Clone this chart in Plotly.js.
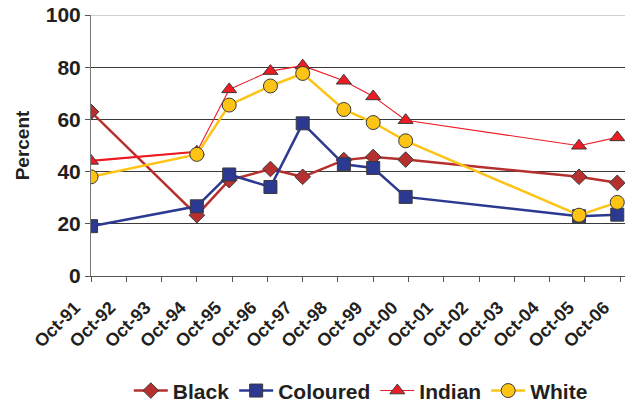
<!DOCTYPE html>
<html><head><meta charset="utf-8">
<script src="https://cdn.plot.ly/plotly-3.0.1.min.js"></script>
<style>html,body{margin:0;padding:0;background:#fff}#chart{width:633px;height:403px}</style>
</head><body><div id="chart"></div>
<script>
const dates = ['1991-10-01','1994-10-01','1995-09-01','1996-11-01','1997-10-01','1998-12-01','1999-10-01','2000-09-01','2005-08-01','2006-09-01'];
const black    = [62.9, 23.3, 36.7, 41.0, 38.0, 44.4, 45.6, 44.6, 38.0, 35.7];
const coloured = [19.1, 26.7, 38.9, 34.1, 58.5, 42.8, 41.4, 30.3, 22.9, 23.5];
const indian   = [44.1, 47.6, 71.5, 78.5, 80.6, 74.8, 68.8, 59.7, 49.9, 53.1];
const white    = [38.0, 46.6, 65.5, 72.8, 77.6, 63.8, 58.8, 51.8, 23.3, 28.2];
const names = ['Black','Coloured','Indian','White'];

const F = 'Liberation Sans, Arial, sans-serif';
const TXT = '#231F20';
const outline = {color:'#3a3a3a', width:1};
const traces = [
  {x:dates, y:black, name:names[0], mode:'lines+markers',
   line:{color:'#B5302E', width:2.5},
   marker:{symbol:'diamond', size:12, color:'#B5302E', line:outline}},
  {x:dates, y:coloured, name:names[1], mode:'lines+markers',
   line:{color:'#2B3990', width:2.5},
   marker:{symbol:'square', size:13, color:'#2B3990', line:outline}},
  {x:dates.slice(0,2), y:indian.slice(0,2), name:names[2], mode:'lines', showlegend:false,
   line:{color:'#ED1C24', width:2.2}, hoverinfo:'skip'},
  {x:dates, y:indian, name:names[2], mode:'lines+markers',
   line:{color:'#ED1C24', width:1.1},
   marker:{symbol:'triangle-up', size:13, color:'#ED1C24', line:outline}},
  {x:dates, y:white, name:names[3], mode:'lines+markers',
   line:{color:'#FDC416', width:2.5},
   marker:{symbol:'circle', size:14, color:'#FDC416', line:outline}}
];

const layout = {
  width:633, height:403,
  margin:{l:91, r:8, t:15, b:127},
  paper_bgcolor:'#fff', plot_bgcolor:'#fff',
  font:{family:F, color:TXT, weight:'bold'},
  showlegend:true,
  legend:{orientation:'h', x:0.57, xref:'container', xanchor:'center',
          y:0.03, yref:'container', yanchor:'middle',
          font:{size:21, family:F, weight:'bold', color:TXT},
          itemwidth:34, traceorder:'normal'},
  xaxis:{type:'date', range:['1991-10-01','2006-11-20'], automargin:false,
         tick0:'1991-10-01', dtick:'M12', tickformat:'%b-%y',
         tickangle:-45, ticks:'outside', ticklen:5, tickcolor:'#555',
         ticklabelstandoff:8, ticklabelshift:-16,
         showgrid:false, showline:true, linecolor:'#555', linewidth:1,
         tickfont:{size:18, family:F, weight:'bold', color:TXT},
         zeroline:false},
  yaxis:{range:[0,100], dtick:20, ticks:'outside', ticklen:5, tickcolor:'#555', automargin:false,
         showline:true, linecolor:'#777', linewidth:1,
         showgrid:true, gridcolor:'#3a3a3a', gridwidth:1, zeroline:false,
         tickfont:{size:21, family:F, weight:'bold', color:TXT},
         title:{text:'Percent', standoff:11, font:{size:19, family:F, weight:'bold', color:TXT}}},
  shapes:[{type:'line', xref:'paper', yref:'y', x0:0, x1:1, y0:100, y1:100, line:{color:'#a0a0a0', width:1.2}}]
};
Plotly.newPlot('chart', traces, layout, {displayModeBar:false, staticPlot:true});
</script></body></html>
